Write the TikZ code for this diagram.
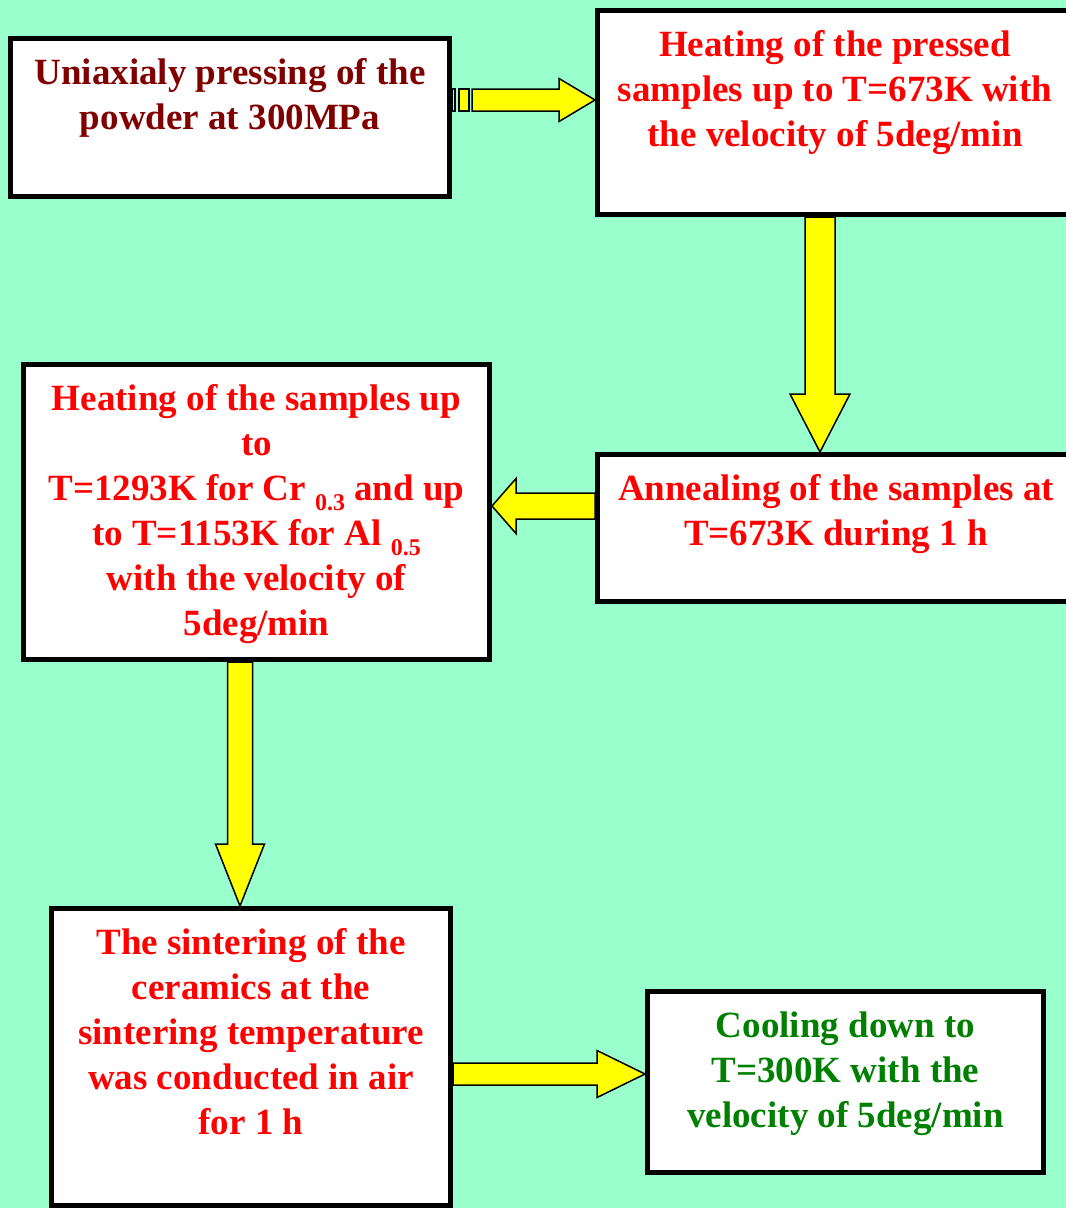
\documentclass[tikz,border=0pt]{standalone}
\usepackage{fontspec}
\setmainfont{Liberation Serif}
\usetikzlibrary{calc}
\definecolor{bgmint}{HTML}{99FFCC}
\definecolor{darkred}{HTML}{800000}
\definecolor{brightred}{HTML}{FF0000}
\definecolor{leafgreen}{HTML}{008000}
\definecolor{arrowyellow}{HTML}{FFFF00}
\pgfdeclarelayer{bglayer}
\pgfdeclarelayer{arrowlayer}
\pgfsetlayers{bglayer,arrowlayer,main}
% lowered small index after an element symbol
\newcommand\lowsub[1]{\raisebox{-10pt}{\fontsize{24}{24}\selectfont #1}}
% block arrow from #1 to #2: shaft half width #3, head half width #4, head length #5
\newcommand\blockarrow[5]{%
  \coordinate (ba-h) at ($(#2)!#5!(#1)$);
  \filldraw[flow] ($(#1)!#3!90:(#2)$) -- ($(ba-h)!#3!-90:(#1)$) -- ($(ba-h)!#4!-90:(#1)$)
    -- (#2) -- ($(ba-h)!#4!90:(#1)$) -- ($(ba-h)!#3!90:(#1)$) -- ($(#1)!#3!-90:(#2)$) -- cycle;}
\begin{document}
\begin{tikzpicture}[x=1pt,y=-1pt,
  stepbox/.style={draw=black, line width=5pt, fill=white, inner sep=0pt},
  steptext/.style={align=center, inner sep=0pt, anchor=north,
    font=\fontsize{37}{45}\selectfont\bfseries},
  flow/.style={fill=arrowyellow, draw=black, line width=1.5pt, line join=miter}]
\useasboundingbox (0,0) rectangle (1066,1208);
\begin{pgfonlayer}{bglayer}
  \fill[bgmint] (0,0) rectangle (1066,1208);
\end{pgfonlayer}

% process boxes
\node[stepbox, minimum width=439pt, minimum height=158pt]   (b1) at (230,117.5) {};
\node[stepbox, minimum width=475pt, minimum height=204pt]   (b2) at (835,112.5) {};
\node[stepbox, minimum width=466pt, minimum height=295pt]   (b3) at (256.5,512) {};
\node[stepbox, minimum width=475pt, minimum height=147pt]   (b4) at (835,528) {};
\node[stepbox, minimum width=399pt, minimum height=296.5pt] (b5) at (251,1056.75) {};
\node[stepbox, minimum width=396pt, minimum height=181pt]   (b6) at (845.5,1082) {};

% box texts
\node[steptext, text=darkred] (t1) at (230,54)
  {\rule{0pt}{30pt}Uniaxialy pressing of the\\powder at 300MPa};
\node[steptext, text=brightred] (t2) at (835,26)
  {\rule{0pt}{30pt}Heating of the pressed\\samples up to T=673K with\\the velocity of 5deg/min};
\node[steptext, text=brightred] (t3) at (256.5,380)
  {\rule{0pt}{30pt}Heating of the samples up\\to\\T=1293K for Cr \lowsub{0.3} and up\\to T=1153K for Al \lowsub{0.5}\\with the velocity of\\5deg/min};
\node[steptext, text=brightred] (t4) at (836,470)
  {\rule{0pt}{30pt}Annealing of the samples at\\T=673K during 1 h};
\node[steptext, text=brightred] (t5) at (251,924)
  {\rule{0pt}{30pt}The sintering of the\\ceramics at the\\sintering temperature\\was conducted in air\\for 1 h};
\node[steptext, text=leafgreen] (t6) at (845.5,1007)
  {\rule{0pt}{30pt}Cooling down to\\T=300K with the\\velocity of 5deg/min};

% connector end points on the box borders
\coordinate (a1s) at (b1.east |- 0,100);
\coordinate (a1b) at ($(a1s)+(20,0)$);
\coordinate (a1e) at (b2.west |- 0,100);
\coordinate (a2s) at (b2.south -| 820,0);
\coordinate (a2e) at (b4.north -| 820,0);
\coordinate (a3s) at (b4.west |- 0,506);
\coordinate (a3e) at (b3.east |- 0,506);
\coordinate (a4s) at (b3.south -| 240,0);
\coordinate (a4e) at (b5.north -| 240,0);
\coordinate (a5s) at (b5.east |- 0,1074);
\coordinate (a5e) at (b6.west |- 0,1074);

% yellow block arrows
\begin{pgfonlayer}{arrowlayer}
  \filldraw[flow] ($(a1s)+(0,-11)$) rectangle ($(a1s)+(3,11)$);
  \filldraw[flow] ($(a1s)+(7,-11)$) rectangle ($(a1s)+(17,11)$);
  \blockarrow{a1b}{a1e}{11pt}{21.5pt}{36pt}
  \blockarrow{a2s}{a2e}{15pt}{30pt}{58pt}
  \blockarrow{a3s}{a3e}{13pt}{27.5pt}{24pt}
  \blockarrow{a4s}{a4e}{12.5pt}{24.5pt}{62pt}
  \blockarrow{a5s}{a5e}{11pt}{23.5pt}{48pt}
\end{pgfonlayer}
\end{tikzpicture}
\end{document}
